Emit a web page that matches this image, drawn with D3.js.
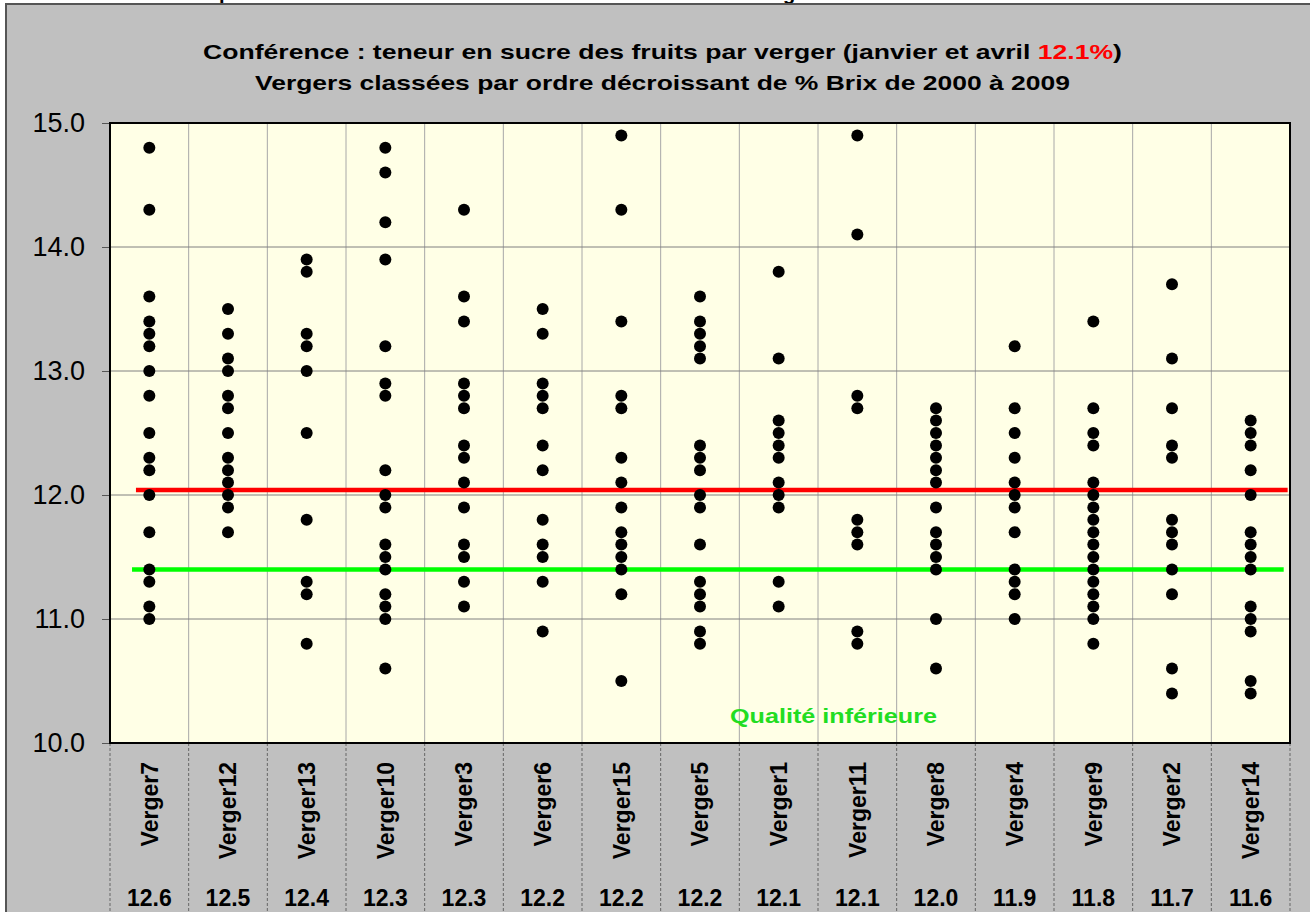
<!DOCTYPE html>
<html>
<head>
<meta charset="utf-8">
<script src="https://cdn.jsdelivr.net/npm/d3@7"></script>
<style>
  body { margin: 0; background: #fff; }
  svg { display: block; font-family: Arial, "Liberation Sans", sans-serif; }
</style>
</head>
<body>
<div id="chart"></div>
<script>
/* Conférence - teneur en sucre (% Brix) par verger */

const VERGERS = ['Verger7', 'Verger12', 'Verger13', 'Verger10', 'Verger3', 'Verger6', 'Verger15',
  'Verger5', 'Verger1', 'Verger11', 'Verger8', 'Verger4', 'Verger9', 'Verger2', 'Verger14'];

const MOYENNES = [12.6, 12.5, 12.4, 12.3, 12.3, 12.2, 12.2, 12.2, 12.1, 12.1, 12.0, 11.9, 11.8, 11.7, 11.6];

const BRIX_V7 = [14.8, 14.3, 13.6, 13.4, 13.3, 13.2, 13.0, 12.8, 12.5, 12.3, 12.2, 12.0, 11.7, 11.4, 11.3, 11.1, 11.0];
const BRIX_V12 = [13.5, 13.3, 13.1, 13.0, 12.8, 12.7, 12.5, 12.3, 12.2, 12.1, 12.0, 11.9, 11.7];
const BRIX_V13 = [13.9, 13.8, 13.3, 13.2, 13.0, 12.5, 11.8, 11.3, 11.2, 10.8];
const BRIX_V10 = [14.8, 14.6, 14.2, 13.9, 13.2, 12.9, 12.8, 12.2, 12.0, 11.9, 11.6, 11.5, 11.4, 11.2, 11.1, 11.0, 10.6];
const BRIX_V3 = [14.3, 13.6, 13.4, 12.9, 12.8, 12.7, 12.4, 12.3, 12.1, 11.9, 11.6, 11.5, 11.3, 11.1];
const BRIX_V6 = [13.5, 13.3, 12.9, 12.8, 12.7, 12.4, 12.2, 11.8, 11.6, 11.5, 11.3, 10.9];
const BRIX_V15 = [14.9, 14.3, 13.4, 12.8, 12.7, 12.3, 12.1, 11.9, 11.7, 11.6, 11.5, 11.4, 11.2, 10.5];
const BRIX_V5 = [13.6, 13.4, 13.3, 13.2, 13.1, 12.4, 12.3, 12.2, 12.0, 11.9, 11.6, 11.3, 11.2, 11.1, 10.9, 10.8];
const BRIX_V1 = [13.8, 13.1, 12.6, 12.5, 12.4, 12.3, 12.1, 12.0, 11.9, 11.3, 11.1];
const BRIX_V11 = [14.9, 14.1, 12.8, 12.7, 11.8, 11.7, 11.6, 10.9, 10.8];
const BRIX_V8 = [12.7, 12.6, 12.5, 12.4, 12.3, 12.2, 12.1, 11.9, 11.7, 11.6, 11.5, 11.4, 11.0, 10.6];
const BRIX_V4 = [13.2, 12.7, 12.5, 12.3, 12.1, 12.0, 11.9, 11.7, 11.4, 11.3, 11.2, 11.0];
const BRIX_V9 = [13.4, 12.7, 12.5, 12.4, 12.1, 12.0, 11.9, 11.8, 11.7, 11.6, 11.5, 11.4, 11.3, 11.2, 11.1, 11.0, 10.8];
const BRIX_V2 = [13.7, 13.1, 12.7, 12.4, 12.3, 11.8, 11.7, 11.6, 11.4, 11.2, 10.6, 10.4];
const BRIX_V14 = [12.6, 12.5, 12.4, 12.2, 12.0, 11.7, 11.6, 11.5, 11.4, 11.1, 11.0, 10.9, 10.5, 10.4];

const BRIX = [BRIX_V7, BRIX_V12, BRIX_V13, BRIX_V10, BRIX_V3, BRIX_V6, BRIX_V15,
  BRIX_V5, BRIX_V1, BRIX_V11, BRIX_V8, BRIX_V4, BRIX_V9, BRIX_V2, BRIX_V14];

const Y_TICKS = [10, 11, 12, 13, 14, 15];

const SEUIL_MOYEN = 12.04;   // ligne rouge
const SEUIL_BAS = 11.4;      // ligne verte, qualité inférieure

/* ── Layout ────────────────────────────────────────────────────────── */

const W = 1310, H = 912;
const plot = { left: 110, right: 1290, top: 123, bottom: 743 };

const svg = d3.select('#chart').append('svg')
  .attr('width', W)
  .attr('height', H);

// fragments of the text above the chart (cut off by the window, as in the original)
svg.append('text').attr('x', 219).attr('y', 0).attr('font-size', 20).attr('font-weight', 'bold').text('p');
svg.append('text').attr('x', 783).attr('y', 0).attr('font-size', 20).attr('font-weight', 'bold').text('g');

// Chart area
svg.append('rect')
  .attr('x', 6).attr('y', 4)
  .attr('width', W + 10).attr('height', H + 10)
  .attr('fill', '#c0c0c0')
  .attr('stroke', '#555')
  .attr('stroke-width', 2);

const x = d3.scaleBand()
  .domain(VERGERS)
  .range([plot.left, plot.right]);

const y = d3.scaleLinear()
  .domain([10, 15])
  .range([plot.bottom, plot.top]);

const bw = x.bandwidth();

// Plot background
svg.append('rect')
  .attr('x', plot.left).attr('y', plot.top)
  .attr('width', plot.right - plot.left).attr('height', plot.bottom - plot.top)
  .attr('fill', '#ffffe6');

// Vertical grid (category separators)
svg.append('g')
  .selectAll('line')
  .data(VERGERS.slice(1))
  .join('line')
  .attr('x1', d => x(d)).attr('x2', d => x(d))
  .attr('y1', plot.top).attr('y2', plot.bottom)
  .attr('stroke', '#a8a8a8')
  .attr('stroke-width', 1);

// Horizontal grid
svg.append('g')
  .selectAll('line')
  .data(Y_TICKS)
  .join('line')
  .attr('x1', plot.left).attr('x2', plot.right)
  .attr('y1', d => y(d)).attr('y2', d => y(d))
  .attr('stroke', '#808080')
  .attr('stroke-width', 1);

// Y axis
const yAxis = svg.append('g')
  .attr('transform', `translate(${plot.left},0)`)
  .call(d3.axisLeft(y).tickValues(Y_TICKS).tickFormat(d3.format('.1f')).tickSize(8).tickPadding(17));
yAxis.select('.domain').remove();
yAxis.selectAll('.tick line').attr('stroke', '#555');
yAxis.selectAll('.tick text')
  .attr('font-family', 'Arial, "Liberation Sans", sans-serif')
  .attr('font-size', 27)
  .attr('fill', '#000');

// Category separators below the plot (dashed)
svg.append('g')
  .selectAll('line')
  .data(d3.range(VERGERS.length + 1))
  .join('line')
  .attr('x1', i => plot.left + i * bw)
  .attr('x2', i => plot.left + i * bw)
  .attr('y1', plot.bottom).attr('y2', H)
  .attr('stroke', '#666')
  .attr('stroke-width', 1)
  .attr('stroke-dasharray', '3,2');

// Category labels (rotated)
svg.append('g')
  .selectAll('text')
  .data(VERGERS)
  .join('text')
  .attr('transform', d => `translate(${x(d) + bw / 2},762) rotate(-90)`)
  .attr('text-anchor', 'end')
  .attr('dy', '0.36em')
  .attr('font-size', 23)
  .attr('font-weight', 'bold')
  .text(d => d);

// Mean labels
svg.append('g')
  .selectAll('text')
  .data(MOYENNES)
  .join('text')
  .attr('x', (d, i) => x(VERGERS[i]) + bw / 2)
  .attr('y', 906)
  .attr('text-anchor', 'middle')
  .attr('font-size', 23)
  .attr('font-weight', 'bold')
  .text(d => d3.format('.1f')(d));

// Reference lines
svg.append('line')
  .attr('x1', x(VERGERS[0]) + bw * 0.33)
  .attr('x2', x(VERGERS[VERGERS.length - 1]) + bw * 0.97)
  .attr('y1', y(SEUIL_MOYEN)).attr('y2', y(SEUIL_MOYEN))
  .attr('stroke', '#ff0000')
  .attr('stroke-width', 4.5);

svg.append('line')
  .attr('x1', x(VERGERS[0]) + bw * 0.28)
  .attr('x2', x(VERGERS[VERGERS.length - 1]) + bw * 0.92)
  .attr('y1', y(SEUIL_BAS)).attr('y2', y(SEUIL_BAS))
  .attr('stroke', '#00ff00')
  .attr('stroke-width', 4.5);

// Points
const pts = [];
BRIX.forEach((vals, i) => vals.forEach(v => pts.push({ verger: VERGERS[i], v })));

svg.append('g')
  .selectAll('circle')
  .data(pts)
  .join('circle')
  .attr('cx', d => x(d.verger) + bw / 2)
  .attr('cy', d => y(d.v))
  .attr('r', 6)
  .attr('fill', '#000');

// Plot border
svg.append('rect')
  .attr('x', plot.left).attr('y', plot.top)
  .attr('width', plot.right - plot.left).attr('height', plot.bottom - plot.top)
  .attr('fill', 'none')
  .attr('stroke', '#000')
  .attr('stroke-width', 2);

// "Qualité inférieure" (the original text is stretched horizontally)
svg.append('text')
  .attr('x', 730).attr('y', 723)
  .attr('font-size', 21)
  .attr('font-weight', 'bold')
  .attr('fill', '#22dd22')
  .attr('textLength', 207)
  .attr('lengthAdjust', 'spacingAndGlyphs')
  .text('Qualité inférieure');

// Title
const title = svg.append('g')
  .attr('font-size', 21)
  .attr('font-weight', 'bold');

const t1 = title.append('text')
  .attr('x', 203).attr('y', 59)
  .attr('textLength', 919)
  .attr('lengthAdjust', 'spacingAndGlyphs');
t1.append('tspan').text('Conférence : teneur en sucre des fruits par verger (janvier et avril ');
t1.append('tspan').attr('fill', '#ff0000').text('12.1%');
t1.append('tspan').text(')');

title.append('text')
  .attr('x', 255).attr('y', 90)
  .attr('textLength', 815)
  .attr('lengthAdjust', 'spacingAndGlyphs')
  .text('Vergers classées par ordre décroissant de % Brix de 2000 à 2009');
</script>
</body>
</html>
